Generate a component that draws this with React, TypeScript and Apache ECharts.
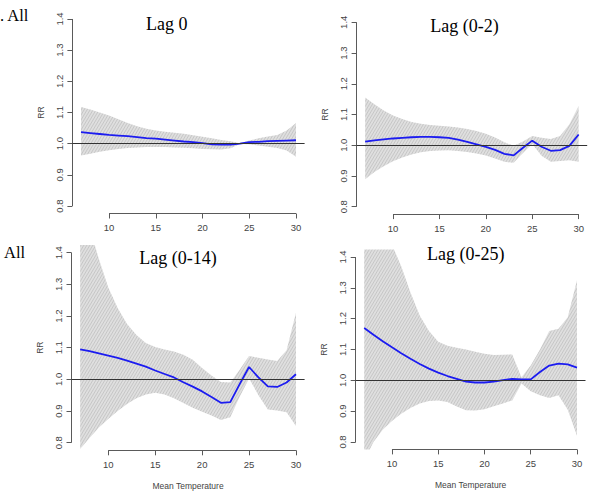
import React, { useEffect, useRef } from "react";
import * as echarts from "echarts";

const TEMPS = [7, 8, 9, 10, 11, 12, 13, 14, 15, 16, 17, 18, 19, 20, 21, 22, 23, 24, 25, 26, 27, 28, 29, 30];
const X_TICKS = [10, 15, 20, 25, 30];
const Y_TICKS = [0.8, 0.9, 1.0, 1.1, 1.2, 1.3, 1.4];

const LAG0_RR = [1.037, 1.034, 1.031, 1.028, 1.026, 1.024, 1.021, 1.018, 1.016, 1.013, 1.01, 1.007, 1.005, 1.002, 0.998, 0.997, 0.997, 1.0, 1.005, 1.006, 1.008, 1.009, 1.01, 1.011];
const LAG0_LOW = [0.962, 0.968, 0.974, 0.979, 0.983, 0.986, 0.988, 0.989, 0.989, 0.989, 0.988, 0.987, 0.985, 0.983, 0.982, 0.981, 0.985, 0.999, 0.998, 0.994, 0.99, 0.986, 0.978, 0.958];
const LAG0_HIGH = [1.118, 1.11, 1.1, 1.09, 1.078, 1.066, 1.056, 1.048, 1.042, 1.038, 1.035, 1.032, 1.027, 1.022, 1.017, 1.012, 1.008, 1.001, 1.01, 1.017, 1.023, 1.028, 1.042, 1.066];

const LAG02_RR = [1.012, 1.016, 1.019, 1.022, 1.024, 1.026, 1.027, 1.027, 1.026, 1.024, 1.018, 1.011, 1.003, 0.995, 0.985, 0.972, 0.967, 0.992, 1.015, 0.995, 0.982, 0.984, 0.998, 1.035];
const LAG02_LOW = [0.889, 0.913, 0.932, 0.948, 0.96, 0.97, 0.977, 0.981, 0.983, 0.984, 0.981, 0.978, 0.973, 0.967, 0.957, 0.946, 0.943, 0.975, 1.004, 0.966, 0.946, 0.949, 0.951, 0.946];
const LAG02_HIGH = [1.155, 1.133, 1.113, 1.097, 1.085, 1.076, 1.07, 1.066, 1.063, 1.061, 1.058, 1.053, 1.046, 1.037, 1.025, 1.01, 0.998, 1.012, 1.03, 1.024, 1.02, 1.03, 1.068, 1.128];

const LAG014_RR = [1.095, 1.089, 1.082, 1.075, 1.068, 1.059, 1.05, 1.04, 1.028, 1.017, 1.006, 0.991, 0.977, 0.962, 0.944, 0.926, 0.928, 0.985, 1.039, 1.006, 0.978, 0.976, 0.99, 1.016];
const LAG014_LOW = [0.78, 0.815, 0.848, 0.875, 0.9, 0.922, 0.94, 0.952, 0.958, 0.952, 0.94, 0.925, 0.91, 0.898, 0.886, 0.872, 0.88, 0.945, 1.003, 0.95, 0.905, 0.902, 0.896, 0.853];
const LAG014_HIGH = [1.6, 1.48, 1.38, 1.29, 1.225, 1.175, 1.14, 1.115, 1.102, 1.094, 1.088, 1.078, 1.062, 1.036, 1.012, 0.992, 0.99, 1.03, 1.074, 1.068, 1.063, 1.058, 1.092, 1.21];

const LAG025_RR = [1.17, 1.148, 1.127, 1.107, 1.088, 1.07, 1.053, 1.038, 1.025, 1.014, 1.005, 0.996, 0.993, 0.993, 0.996, 1.001, 1.005, 1.003, 1.003, 1.027, 1.048, 1.054, 1.052, 1.041];
const LAG025_LOW = [0.74, 0.8, 0.84, 0.868, 0.892, 0.91, 0.925, 0.933, 0.935, 0.93, 0.915, 0.903, 0.902, 0.906, 0.916, 0.925, 0.935, 0.99, 0.965, 0.952, 0.943, 0.952, 0.905, 0.82];
const LAG025_HIGH = [1.7, 1.6, 1.52, 1.44, 1.37, 1.285, 1.21, 1.16, 1.125, 1.112, 1.106, 1.1, 1.093, 1.086, 1.082, 1.083, 1.084, 1.01, 1.048, 1.1, 1.16, 1.167, 1.205, 1.325];

const TITLES = ["Lag 0", "Lag (0-2)", "Lag (0-14)", "Lag (0-25)"];

const X_MIN = 6.08;
const X_MAX = 30.92;
const Y_MIN = 0.776;
const Y_MAX = 1.424;

const PANELS = [
  { rr: LAG0_RR, low: LAG0_LOW, high: LAG0_HIGH, grid: { left: 72.4, top: 11.5, width: 232.2, height: 202 }, xName: false, title: { x: 166.7, y: 24.4 } },
  { rr: LAG02_RR, low: LAG02_LOW, high: LAG02_HIGH, grid: { left: 356.6, top: 14.9, width: 230.6, height: 199.2 }, xName: false, title: { x: 464.5, y: 25.6 } },
  { rr: LAG014_RR, low: LAG014_LOW, high: LAG014_HIGH, grid: { left: 71.5, top: 245.1, width: 233.1, height: 205.2 }, xName: true, title: { x: 178, y: 257.6 } },
  { rr: LAG025_RR, low: LAG025_LOW, high: LAG025_HIGH, grid: { left: 355.7, top: 249.6, width: 229.8, height: 199.8 }, xName: true, title: { x: 465.7, y: 254.2 } },
];

function makeHatch(): HTMLCanvasElement {
  const w = 3;
  const h = 5;
  const c = document.createElement("canvas");
  c.width = w;
  c.height = h;
  const ctx = c.getContext("2d")!;
  ctx.fillStyle = "#dfdfdf";
  ctx.fillRect(0, 0, w, h);
  ctx.strokeStyle = "#c3c3c3";
  ctx.lineWidth = 0.9;
  ctx.beginPath();
  for (let s = -1; s <= 1; s++) {
    ctx.moveTo(s * w, h);
    ctx.lineTo(s * w + w, 0);
  }
  ctx.stroke();
  return c;
}

const SANS = "'Liberation Sans', Arial, sans-serif";
const SERIF = "'Liberation Serif', 'Times New Roman', serif";

export default function App() {
  const ref = useRef<HTMLDivElement>(null);
  useEffect(() => {
    if (!ref.current) return;
    const chart = echarts.init(ref.current, undefined, { renderer: "svg" });
    const hatch = makeHatch();

    const grids: any[] = [];
    const xAxes: any[] = [];
    const yAxes: any[] = [];
    const series: any[] = [];
    const graphics: any[] = [];

    PANELS.forEach((p, i) => {
      grids.push({ ...p.grid, containLabel: false });
      xAxes.push({
        type: "value",
        gridIndex: i,
        min: X_MIN,
        max: X_MAX,
        axisLine: { show: false },
        splitLine: { show: false },
        axisTick: { show: true, customValues: X_TICKS, length: 5, lineStyle: { color: "#5a5a5a", width: 1 } },
        axisLabel: { show: true, customValues: X_TICKS, fontSize: 9.5, color: "#444", margin: 9, fontFamily: SANS },
        name: p.xName ? "Mean Temperature" : "",
        nameLocation: "middle",
        nameGap: 31,
        nameTextStyle: { fontSize: 8.5, color: "#444", fontFamily: SANS },
      });
      yAxes.push({
        type: "value",
        gridIndex: i,
        min: Y_MIN,
        max: Y_MAX,
        axisLine: { show: false },
        splitLine: { show: false },
        axisTick: { show: true, customValues: Y_TICKS, length: 5, lineStyle: { color: "#5a5a5a", width: 1 } },
        axisLabel: {
          show: true,
          customValues: Y_TICKS,
          rotate: 90,
          fontSize: 9.5,
          color: "#444",
          margin: 8,
          fontFamily: SANS,
          formatter: (v: number) => v.toFixed(1),
        },
        name: "RR",
        nameLocation: "middle",
        nameGap: 27,
        nameRotate: 90,
        nameTextStyle: { fontSize: 8.5, color: "#444", fontFamily: SANS },
      });

      const bandData = TEMPS.map((t, k) => [t, p.low[k], p.high[k]]);
      const rrData = TEMPS.map((t, k) => [t, p.rr[k]]);

      series.push({
        type: "custom",
        xAxisIndex: i,
        yAxisIndex: i,
        data: bandData,
        encode: { x: 0, y: [1, 2] },
        silent: true,
        clip: true,
        z: 1,
        renderItem: (params: any, api: any) => {
          if (params.dataIndex !== 0) return null;
          const pts: number[][] = [];
          for (let k = 0; k < TEMPS.length; k++) pts.push(api.coord([TEMPS[k], p.high[k]]));
          for (let k = TEMPS.length - 1; k >= 0; k--) pts.push(api.coord([TEMPS[k], p.low[k]]));
          const cs = params.coordSys;
          return {
            type: "polygon",
            shape: { points: pts },
            style: { fill: { image: hatch, repeat: "repeat" }, stroke: "none" },
            clipPath: { type: "rect", shape: { x: cs.x, y: cs.y, width: cs.width, height: cs.height } },
          };
        },
        markLine: {
          silent: true,
          symbol: "none",
          label: { show: false },
          animation: false,
          data: [
            [
              { coord: [X_TICKS[0], Y_MIN], lineStyle: { color: "#5a5a5a", width: 1, type: "solid" } },
              { coord: [X_TICKS[X_TICKS.length - 1], Y_MIN] },
            ],
            [
              { coord: [X_MIN, Y_TICKS[0]], lineStyle: { color: "#5a5a5a", width: 1, type: "solid" } },
              { coord: [X_MIN, Y_TICKS[Y_TICKS.length - 1]] },
            ],
          ],
        },
      });
      series.push({
        type: "line",
        xAxisIndex: i,
        yAxisIndex: i,
        data: rrData,
        showSymbol: false,
        symbol: "none",
        lineStyle: { color: "#1c1cf0", width: 1.8 },
        silent: true,
        clip: true,
        z: 4,
        markLine: {
          silent: true,
          symbol: "none",
          label: { show: false },
          animation: false,
          lineStyle: { color: "#333", width: 1, type: "solid" },
          data: [{ yAxis: 1.0 }],
        },
      });

      graphics.push({
        type: "text",
        x: p.title.x,
        y: p.title.y,
        z: 100,
        style: {
          text: TITLES[i],
          fontSize: 18,
          fontFamily: SERIF,
          fill: "#000",
          align: "center",
          verticalAlign: "middle",
          textAlign: "center",
          textVerticalAlign: "middle",
        },
      });
    });

    graphics.push({
      type: "text",
      x: 0,
      y: 15.4,
      z: 100,
      style: { text: ". All", fontSize: 16.5, fontFamily: SERIF, fill: "#000", align: "left", verticalAlign: "middle", textAlign: "left", textVerticalAlign: "middle" },
    });
    graphics.push({
      type: "text",
      x: 4,
      y: 252.4,
      z: 100,
      style: { text: "All", fontSize: 16.5, fontFamily: SERIF, fill: "#000", align: "left", verticalAlign: "middle", textAlign: "left", textVerticalAlign: "middle" },
    });

    chart.setOption({
      animation: false,
      backgroundColor: "#fff",
      grid: grids,
      xAxis: xAxes,
      yAxis: yAxes,
      series,
      graphic: graphics,
    });
    return () => chart.dispose();
  }, []);
  return <div ref={ref} style={{ position: "absolute", left: 0, top: 0, width: 594, height: 496 }} />;
}
